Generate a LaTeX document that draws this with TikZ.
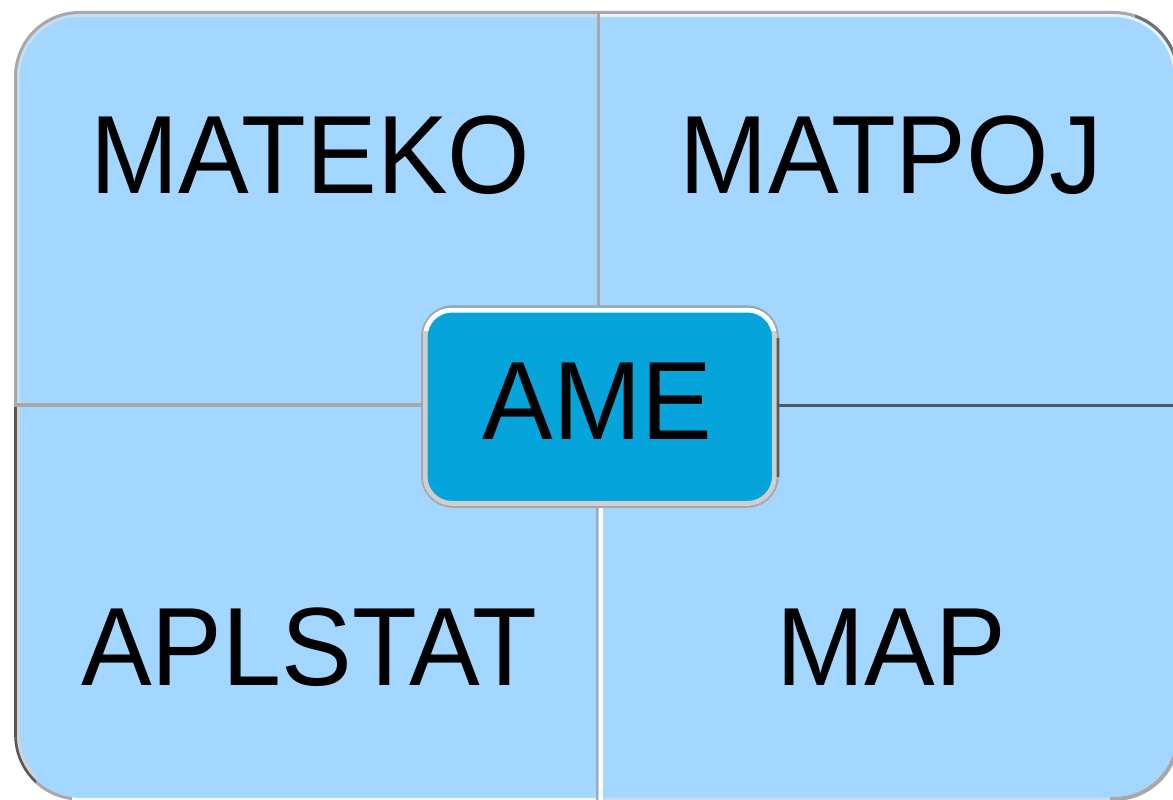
\documentclass[tikz,border=0pt]{standalone}
\usepackage{fontspec}
\usepackage{graphicx}
\setmainfont{Liberation Sans}
\definecolor{pane}{HTML}{A3D7FF}
\definecolor{hub}{HTML}{05A5DC}
\definecolor{edgegray}{HTML}{A9A7A7}
\definecolor{edgedark}{HTML}{55585C}
\definecolor{softline}{HTML}{C9DDEC}
\tikzset{
  panefill/.style={fill=pane,draw=none},
  rim/.style={draw=edgegray,line width=3pt},
  rimdark/.style={draw=edgedark,line width=2.6pt},
  label/.style={font=\fontsize{106}{106}\selectfont,anchor=base,text=black,inner sep=0pt,outer sep=0pt},
}
\newcommand{\tall}[1]{\scalebox{1}[1.05]{#1}}
\newcommand{\outerline}{[rounded corners=64pt] (15.5,405) -- (15.5,12.5) -- (1178,12.5) -- (1178,799) -- (15.5,799) -- cycle}
\newcommand{\innerline}{[rounded corners=61pt] (18.5,405) -- (18.5,15.5) -- (1175,15.5) -- (1175,796) -- (18.5,796) -- cycle}
\newcommand{\hubouter}{[rounded corners=31pt] (421.8,400) -- (421.8,306) -- (778,306) -- (778,507) -- (421.8,507) -- cycle}
\newcommand{\hubinner}{[rounded corners=27pt] (425,400) -- (425,310) -- (774.5,310) -- (774.5,503.5) -- (425,503.5) -- cycle}
\begin{document}
\begin{tikzpicture}[x=1pt,y=-1pt]
\useasboundingbox (0,0) rectangle (1173,800);
\clip (0,0) rectangle (1173,800);
% panes
\fill[panefill] \outerline;
% top-left rim
\begin{scope}
  \clip (0,0) rectangle (598,405);
  \draw[draw=softline,line width=3pt] \innerline;
  \draw[rim] \outerline;
\end{scope}
% top-right rim
\begin{scope}
  \clip (598,0) rectangle (1173,405);
  \draw[draw=white,line width=3pt,opacity=.75] \innerline;
  \draw[rim] \outerline;
\end{scope}
\begin{scope}
  \clip (1135,0) rectangle (1173,60);
  \draw[draw=edgedark!70!edgegray,line width=3pt] \outerline;
\end{scope}
% bottom-left rim
\begin{scope}
  \clip (0,405) rectangle (36,800);
  \draw[draw=edgegray!50!white,line width=3pt] \innerline;
  \draw[rimdark] \outerline;
\end{scope}
\begin{scope}
  \clip (36,405) rectangle (72,800);
  \draw[rim] \outerline;
\end{scope}
\begin{scope}
  \clip (72,405) rectangle (598,800);
  \draw[draw=white,line width=2.4pt,opacity=.8] \outerline;
\end{scope}
% bottom-right rim
\begin{scope}
  \clip (598,405) rectangle (1173,800);
  \draw[draw=softline,line width=3pt] \outerline;
\end{scope}
\begin{scope}
  \clip (1110,405) rectangle (1173,800);
  \draw[rim,line width=4pt] \outerline;
\end{scope}
% dividers
\coordinate (topmid) at (598,13);
\coordinate (hubtop) at (598,306);
\coordinate (hubbot) at (601,507);
\coordinate (botmid) at (601,800);
\coordinate (botmidb) at (597.3,800);
\coordinate (hubbotb) at (597.3,507);
\coordinate (leftmid) at (14,405);
\coordinate (hubleft) at (422,405);
\coordinate (hubright) at (778,405.5);
\coordinate (rightmid) at (1173,405.5);
\draw[rim] (topmid) -- (hubtop);
\draw[draw=white,line width=4.6pt] (hubbot) -- (botmid);
\draw[draw=edgegray,line width=2pt] (hubbotb) -- (botmidb);
\draw[rim,line width=3.4pt] (leftmid) -- (hubleft);
\draw[rimdark,line width=3pt] (hubright) -- (rightmid);
% hub
\fill[hub] \hubouter;
\begin{scope}
  \clip (400,330) rectangle (800,520);
  \draw[draw=edgegray!55!white,line width=5pt] \hubinner;
\end{scope}
\begin{scope}
  \clip (400,290) rectangle (800,330);
  \draw[draw=white,line width=5pt] \hubinner;
\end{scope}
\draw[draw=edgegray,line width=1.6pt] \hubouter;
\begin{scope}
  \clip (770,338) rectangle (800,476);
  \draw[draw=edgedark,line width=2.6pt] \hubouter;
\end{scope}
% labels
\node[label] (mateko) at (310.5,193.5) {\tall{MATEKO}};
\node[label] (matpoj) at (891,193.5) {\tall{MATPOJ}};
\node[label] (aplstat) at (309,685) {\tall{APLSTAT}};
\node[label] (map) at (891,685) {\tall{MAP}};
\node[label] (ame) at (597.5,439.5) {\tall{AME}};
\end{tikzpicture}
\end{document}
